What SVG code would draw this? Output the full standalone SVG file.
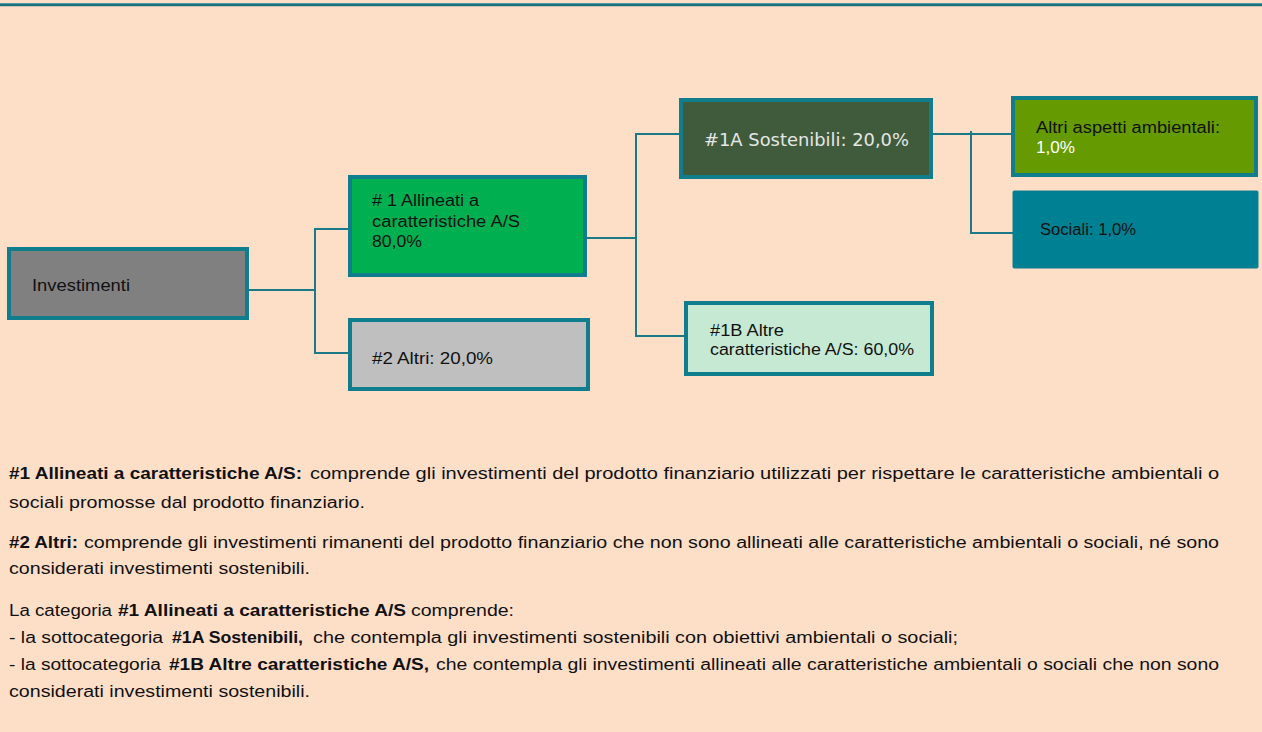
<svg xmlns="http://www.w3.org/2000/svg" width="1262" height="732" viewBox="0 0 1262 732">
<style>
.bx{stroke:#0f7d8c;stroke-width:4}
.t{font-family:"Liberation Sans",Arial,sans-serif;font-size:16px;fill:#111}
.b{font-weight:bold}
.n{font-family:"Liberation Sans",Arial,sans-serif;font-size:16px;fill:#111}
.c{fill:none;stroke:#1a7a87;stroke-width:2}
</style>
<rect x="0" y="0" width="1262" height="732" fill="#fddfc8"/>
<line x1="0" y1="5" x2="1262" y2="5" stroke="#1f6f7a" stroke-width="2.5"/>
<line x1="0" y1="3.5" x2="1262" y2="3.5" stroke="#4aa0aa" stroke-width="1"/>

<g id="connectors">
<polyline class="c" points="249,290 315,290"/>
<polyline class="c" points="348,229 315,229 315,353 348,353"/>
<polyline class="c" points="587,238 636,238"/>
<polyline class="c" points="679,134 636,134 636,336 684,336"/>
<polyline class="c" points="926,134 1011,134"/>
<polyline class="c" points="971,131 971,233 1013,233"/>
</g>

<g id="node-investimenti">
<rect class="bx" x="9" y="249" width="238" height="69" fill="#808080"/>
<text class="n" x="32" y="291" textLength="98" lengthAdjust="spacingAndGlyphs">Investimenti</text>
</g>
<g id="node-1">
<rect class="bx" x="350" y="177" width="235" height="98" fill="#00b050"/>
<text class="n" x="372" y="206" textLength="107" lengthAdjust="spacingAndGlyphs"># 1 Allineati a</text>
<text class="n" x="372" y="227" textLength="148" lengthAdjust="spacingAndGlyphs">caratteristiche A/S</text>
<text class="n" x="372" y="247" textLength="50" lengthAdjust="spacingAndGlyphs">80,0%</text>
</g>
<g id="node-2">
<rect class="bx" x="350" y="320" width="238" height="69" fill="#bfbfbf"/>
<text class="n" x="372" y="364" textLength="121" lengthAdjust="spacingAndGlyphs">#2 Altri:  20,0%</text>
</g>
<g id="node-1a">
<rect class="bx" x="681" y="100" width="250" height="77" fill="#3f5b3c"/>
<text x="704" y="146" font-family="DejaVu Sans,sans-serif" font-size="17" fill="#e6e6e6" textLength="205" lengthAdjust="spacingAndGlyphs">#1A Sostenibili:  20,0%</text>
</g>
<g id="node-1b">
<rect class="bx" x="686" y="303" width="246" height="71" fill="#c6e9d3"/>
<text class="n" x="710" y="336" textLength="74" lengthAdjust="spacingAndGlyphs">#1B Altre</text>
<text class="n" x="710" y="355" textLength="204" lengthAdjust="spacingAndGlyphs">caratteristiche A/S:  60,0%</text>
</g>
<g id="node-altri-ambientali">
<rect class="bx" x="1013" y="98" width="243" height="77" fill="#659a00"/>
<text class="n" x="1036" y="133" textLength="184" lengthAdjust="spacingAndGlyphs">Altri aspetti ambientali:</text>
<text class="n" x="1036" y="153" style="fill:#ffffff" textLength="39" lengthAdjust="spacingAndGlyphs">1,0%</text>
</g>
<g id="node-sociali">
<rect x="1013" y="191" width="245" height="77" rx="1" fill="#008193" stroke="#0f7d8c" stroke-width="1"/>
<text class="n" x="1040" y="235" textLength="96" lengthAdjust="spacingAndGlyphs">Sociali: 1,0%</text>
</g>

<g id="legend">
<text class="t b" x="9" y="479" textLength="293" lengthAdjust="spacingAndGlyphs">#1 Allineati a caratteristiche A/S:</text>
<text class="t" x="310" y="479" textLength="909" lengthAdjust="spacingAndGlyphs">comprende gli investimenti del prodotto finanziario utilizzati per rispettare le caratteristiche ambientali o</text>
<text class="t" x="9" y="508" textLength="356" lengthAdjust="spacingAndGlyphs">sociali promosse dal prodotto finanziario.</text>
<text class="t b" x="9" y="548" textLength="69" lengthAdjust="spacingAndGlyphs">#2 Altri:</text>
<text class="t" x="84" y="548" textLength="1135" lengthAdjust="spacingAndGlyphs">comprende gli investimenti rimanenti del prodotto finanziario che non sono allineati alle caratteristiche ambientali o sociali, né sono</text>
<text class="t" x="9" y="574" textLength="301" lengthAdjust="spacingAndGlyphs">considerati investimenti sostenibili.</text>
<text class="t" x="9" y="616" textLength="103" lengthAdjust="spacingAndGlyphs">La categoria</text>
<text class="t b" x="118" y="616" textLength="288" lengthAdjust="spacingAndGlyphs">#1 Allineati a caratteristiche A/S</text>
<text class="t" x="411" y="616" textLength="103" lengthAdjust="spacingAndGlyphs">comprende:</text>
<text class="t" x="9" y="643" textLength="154" lengthAdjust="spacingAndGlyphs">- la sottocategoria</text>
<text class="t b" x="172" y="643" textLength="131" lengthAdjust="spacingAndGlyphs">#1A Sostenibili,</text>
<text class="t" x="313" y="643" textLength="645" lengthAdjust="spacingAndGlyphs">che contempla gli investimenti sostenibili con obiettivi ambientali o sociali;</text>
<text class="t" x="9" y="670" textLength="152" lengthAdjust="spacingAndGlyphs">- la sottocategoria</text>
<text class="t b" x="169" y="670" textLength="260" lengthAdjust="spacingAndGlyphs">#1B Altre caratteristiche A/S,</text>
<text class="t" x="436" y="670" textLength="783" lengthAdjust="spacingAndGlyphs">che contempla gli investimenti allineati alle caratteristiche ambientali o sociali che non sono</text>
<text class="t" x="9" y="697" textLength="301" lengthAdjust="spacingAndGlyphs">considerati investimenti sostenibili.</text>
</g>
</svg>
